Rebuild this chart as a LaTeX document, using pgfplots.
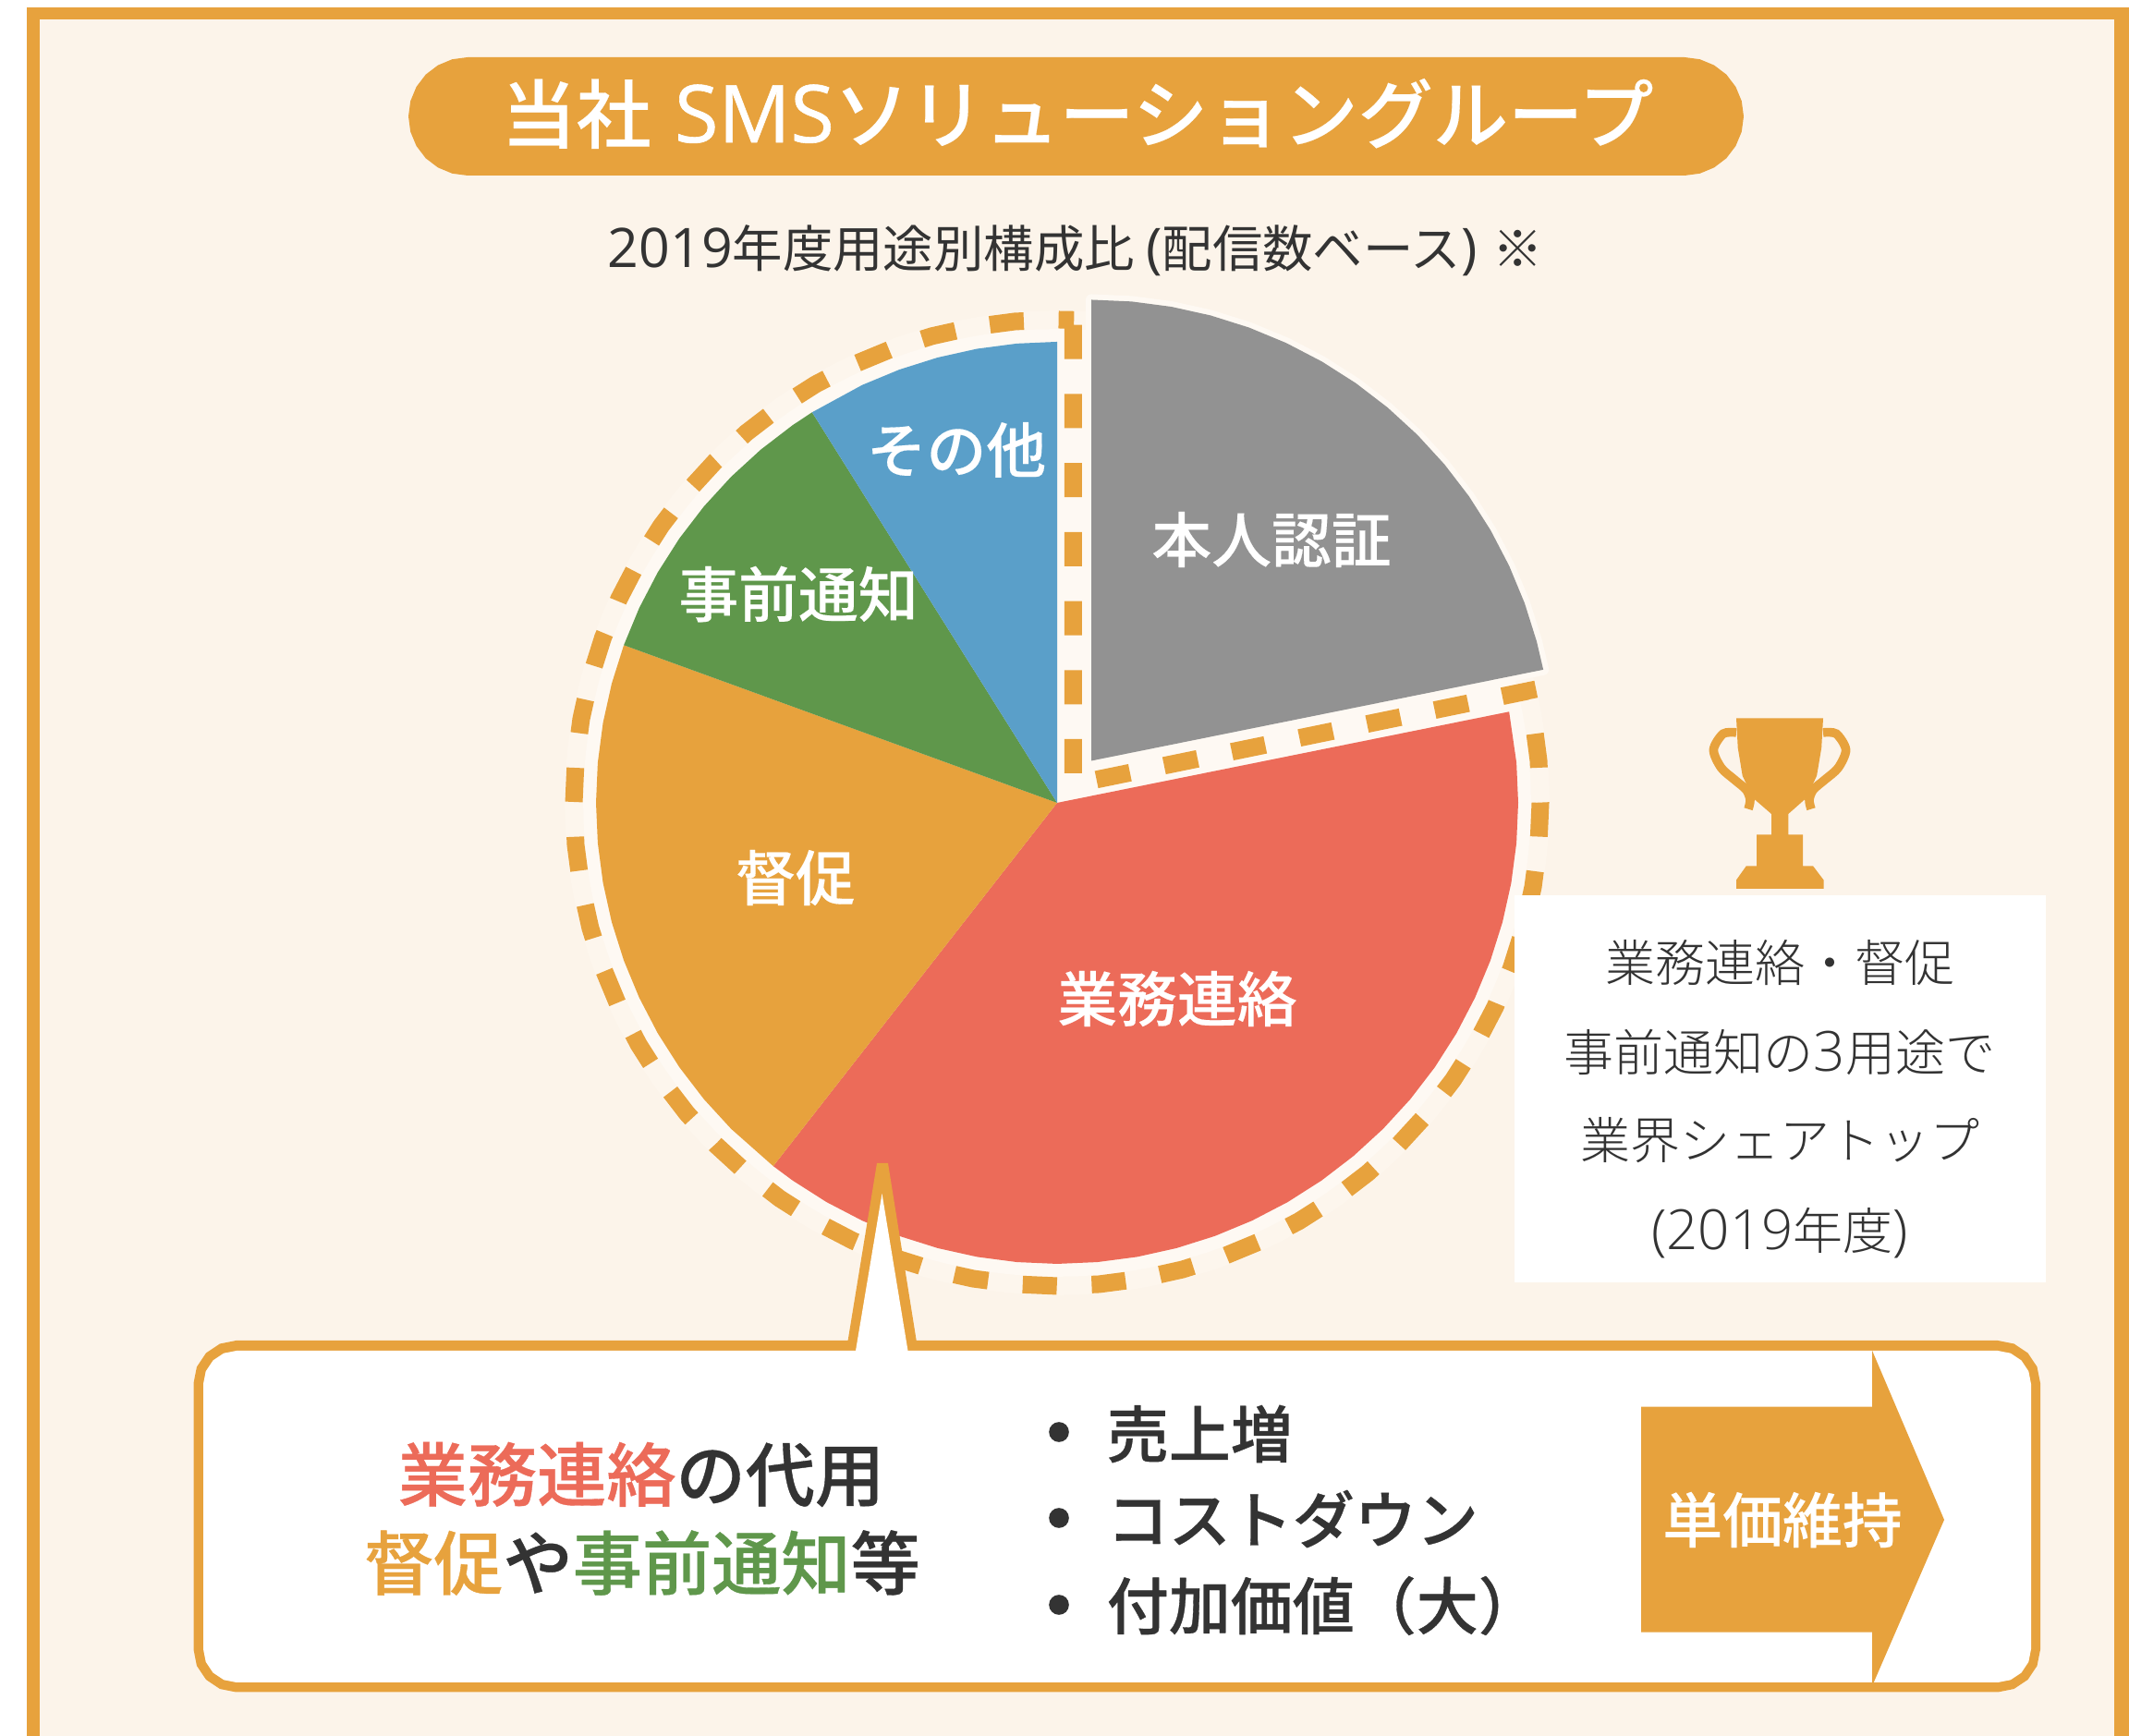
\documentclass[border=0pt]{standalone}
\usepackage{fontspec}
\usepackage{pgfplots}
\pgfplotsset{compat=1.18}
\setmainfont{Open Sans}
\newfontfamily\cjk{Noto Sans CJK JP}
\newfontfamily\cjkm{Noto Sans CJK JP Medium}
\newfontfamily\cjkl{Noto Sans CJK JP Light}
\newfontfamily\cjkh[FakeBold=0.5]{Noto Sans CJK JP Medium}
\newfontfamily\cjkt[FakeBold=0.2]{Noto Sans CJK JP Medium}
\newfontfamily\latl{Open Sans Light}
\newfontfamily\latm[FakeBold=0.7]{Open Sans}
\newcommand\fs[1]{\fontsize{#1}{#1}\selectfont}
\definecolor{org}{HTML}{E7A23D}
\definecolor{redc}{HTML}{EC6B59}
\definecolor{grn}{HTML}{5F974B}
\definecolor{blu}{HTML}{5A9FC9}
\definecolor{gry}{HTML}{929292}
\definecolor{bg}{HTML}{FCF4EA}
\definecolor{glow1}{HTML}{FDF6ED}
\definecolor{glow2}{HTML}{FEF9F3}
\definecolor{ink}{HTML}{333333}
% 1 px of the reference = 0.25pt
\pgfplotsset{sheet/.style={width=576pt,height=469.75pt,scale only axis,hide axis,at={(0,0)},anchor=south west}}
\tikzset{lab/.style={inner sep=0pt,anchor=center,align=center}}
\begin{document}
\begin{tikzpicture}
%% frame and title, in image pixels
\begin{axis}[sheet,xmin=0,xmax=2304,ymin=0,ymax=1879,y dir=reverse]
\addplot[fill=white,draw=none] coordinates {(0,0) (2304,0) (2304,1879) (0,1879)} --cycle;
\addplot[fill=org,draw=none] coordinates {(29.4,8.3) (2304,8.3) (2304,1879) (29.4,1879)} --cycle;
\addplot[fill=bg,draw=none] coordinates {(42.6,21.3) (2288,21.3) (2288,1879) (42.6,1879)} --cycle;
\addplot[fill=org,draw=none] coordinates {(442,126) (444.2,109.4) (450.6,94) (460.7,80.7) (474,70.6) (489.4,64.2) (506,62)
  (1823,62) (1839.6,64.2) (1855,70.6) (1868.3,80.7) (1878.4,94) (1884.8,109.4) (1887,126)
  (1884.8,142.6) (1878.4,158) (1868.3,171.3) (1855,181.4) (1839.6,187.8) (1823,190)
  (506,190) (489.4,187.8) (474,181.4) (460.7,171.3) (450.6,158) (444.2,142.6)} --cycle;
\node[lab,text=white] at (axis cs:1166,123) {\fs{20.3}\cjkt 当社\hspace{6.3pt}{\latm\fs{21.6}SMS}ソリューショングループ};
\node[lab,text=ink] at (axis cs:1164,271) {{\fs{14.75}2019}\fs{13.6}\cjk 年度用途別構成比 {\fontspec{Open Sans}\fs{14.75}(}配信数ベース{\fontspec{Open Sans}\fs{14.75})}\hspace{1.2pt} ※};
\addplot[only marks,mark=*,mark size=133pt,mark options={draw=glow1,fill=glow1}] coordinates {(1144,869)};
\end{axis}
\begin{axis}[sheet,xmin=0,xmax=2304,ymin=0,ymax=1879,y dir=reverse]
\addplot[only marks,mark=*,mark size=128pt,mark options={draw=glow2,fill=glow2}] coordinates {(1144,869)};
\end{axis}
%% pie, polar data round the centre at pixel (1144,869)
\begin{axis}[sheet,xmin=-1144,xmax=1160,ymin=-1010,ymax=869,clip=false]
% soft edge of the 本人認証 slice
\addplot[glow2,line width=3pt,line join=round,data cs=polar,xshift=9.25pt,yshift=11.375pt] coordinates {
 (90,0) (90,499) (85,499) (80,499) (75,499) (70,499) (65,499) (60,499) (55,499) (50,499) (45,499) (40,499) (35,499) (30,499) (25,499) (20,499) (15,499) (11.4,499)} --cycle;
% dashed ring
\addplot[org,line width=4.75pt,dash pattern=on 9.25pt off 9.43pt,data cs=polar] coordinates {
 (88.07,517.6) (49,26.5) (13.37,523.2) (10,523) (5,523) (0,523) (-5,523) (-10,523) (-15,523) (-20,523) (-25,523) (-30,523)
 (-35,523) (-40,523) (-45,523) (-50,523) (-55,523) (-60,523) (-65,523) (-70,523) (-75,523) (-80,523) (-85,523) (-90,523)
 (-95,523) (-100,523) (-105,523) (-110,523) (-115,523) (-120,523) (-125,523) (-130,523) (-135,523) (-140,523) (-145,523) (-150,523)
 (-155,523) (-160,523) (-165,523) (-170,523) (-175,523) (-180,523) (-185,523) (-190,523) (-195,523) (-200,523) (-205,523) (-210,523)
 (-215,523) (-220,523) (-225,523) (-230,523) (-235,523) (-240,523) (-245,523) (-250,523) (-255,523) (-260,523) (-265,523) (-270,523) (-272,523)};
% 本人認証, pulled out of the pie
\addplot[fill=gry,draw=none,data cs=polar,xshift=9.25pt,yshift=11.375pt] coordinates {
 (90,0) (90,499) (85,499) (80,499) (75,499) (70,499) (65,499) (60,499) (55,499) (50,499) (45,499) (40,499) (35,499) (30,499) (25,499) (20,499) (15,499) (11.4,499)} --cycle;
% 業務連絡
\addplot[fill=redc,draw=none,data cs=polar] coordinates {
 (0,0) (11.4,499) (5,499) (0,499) (-5,499) (-10,499) (-15,499) (-20,499) (-25,499) (-30,499) (-35,499) (-40,499) (-45,499) (-50,499) (-55,499) (-60,499) (-65,499)
 (-70,499) (-75,499) (-80,499) (-85,499) (-90,499) (-95,499) (-100,499) (-105,499) (-110,499) (-115,499) (-120,499) (-125,499) (-128,499)} --cycle;
% 督促
\addplot[fill=org,draw=none,data cs=polar] coordinates {
 (0,0) (232,499) (225,499) (220,499) (215,499) (210,499) (205,499) (200,499) (195,499) (190,499) (185,499) (180,499) (175,499) (170,499) (165,499) (160,499)} --cycle;
% 事前通知
\addplot[fill=grn,draw=none,data cs=polar] coordinates {
 (0,0) (160,499) (155,499) (150,499) (145,499) (140,499) (135,499) (130,499) (125,499) (122.1,499)} --cycle;
% その他
\addplot[fill=blu,draw=none,data cs=polar] coordinates {
 (0,0) (122.1,499) (115,499) (110,499) (105,499) (100,499) (95,499) (90,499)} --cycle;
\end{axis}
%% labels, box, trophy and callout, in image pixels
\begin{axis}[sheet,xmin=0,xmax=2304,ymin=0,ymax=1879,y dir=reverse]
\node[lab,text=white] at (axis cs:1376,584) {\fs{16.2}\cjkt 本人認証};
\node[lab,text=white] at (axis cs:1035,487) {\fs{16.2}\cjkt その他};
\node[lab,text=white] at (axis cs:864,643) {\fs{16.2}\cjkt 事前通知};
\node[lab,text=white] at (axis cs:861,950) {\fs{16.2}\cjkt 督促};
\node[lab,text=white] at (axis cs:1274,1081) {\fs{16.2}\cjkt 業務連絡};
% white box
\addplot[fill=white,draw=none] coordinates {(1638.5,969) (2214,969) (2214,1388) (1638.5,1388)} --cycle;
\node[lab,text=ink] at (axis cs:1926,1042) {\fs{13.5}\cjkl 業務連絡・督促};
\node[lab,text=ink] at (axis cs:1926,1139) {\fs{13.5}\cjkl 事前通知の{\latl\fs{15}3}用途で};
\node[lab,text=ink] at (axis cs:1926,1234) {\fs{13.5}\cjkl 業界シェアトップ};
\node[lab,text=ink] at (axis cs:1926,1335) {\latl\fs{15}(2019{\fs{13.5}\cjkl 年度})};
% trophy
\addplot[fill=org,draw=none] coordinates {(1879,777.3) (1973,777.3) (1971.2,809.4) (1966.1,839.7) (1955,863.6) (1935.3,881)
  (1935.3,903.5) (1951.2,903.5) (1951.2,937.3) (1962,937.3) (1973.5,952.5) (1973.5,962) (1879,962) (1879,952.5) (1889.8,937.3)
  (1901,937.3) (1901,903.5) (1917,903.5) (1917,881) (1896.9,863.6) (1885.7,839.7) (1880.7,809.4)} --cycle;
\addplot[org,line width=2.4pt,smooth] coordinates {(1879,792.9) (1864.8,794.2) (1854.4,811.6) (1862.7,831.1) (1877.3,844.1) (1889.8,854.9) (1894,865.8) (1892,875.7)};
\addplot[org,line width=2.4pt,smooth] coordinates {(1973,792.9) (1987.2,794.2) (1997.6,811.6) (1989.3,831.1) (1974.7,844.1) (1962.2,854.9) (1958,865.8) (1960,875.7)};
% callout
\addplot[fill=org,draw=none] coordinates {(917.6,1451) (949,1259) (961,1259) (991.7,1451)
  (2162,1451) (2179.6,1454.5) (2194.5,1464.5) (2204.5,1479.4) (2208,1497)
  (2208,1785.5) (2204.5,1803.1) (2194.5,1818) (2179.6,1828) (2162,1831.5)
  (255.5,1831.5) (237.9,1828) (223,1818) (213,1803.1) (209.5,1785.5)
  (209.5,1497) (213,1479.4) (223,1464.5) (237.9,1454.5) (255.5,1451)} --cycle;
\addplot[fill=white,draw=none] coordinates {(926,1462) (954.5,1292) (982.5,1462)
  (2162,1462) (2175.8,1464.7) (2187.5,1472.5) (2195.3,1484.2) (2198,1498)
  (2198,1785) (2195.3,1798.8) (2187.5,1810.5) (2175.8,1818.3) (2162,1821)
  (256,1821) (242.2,1818.3) (230.5,1810.5) (222.7,1798.8) (220,1785)
  (220,1498) (222.7,1484.2) (230.5,1472.5) (242.2,1464.7) (256,1462)} --cycle;
\addplot[fill=org,draw=none] coordinates {(1776,1522.7) (2026,1522.7) (2026,1461.7) (2104,1645) (2026,1825) (2026,1766.7) (1776,1766.7)} --cycle;
\addplot[only marks,mark=*,mark size=2.5pt,mark options={draw=ink,fill=ink}] coordinates {(1146,1550) (1146,1643) (1146,1737)};
\node[lab,text=ink] at (axis cs:694,1596) {\fs{18.8}\cjkh{\color{redc}業務連絡}の代用};
\node[lab,text=ink] at (axis cs:695,1691.5) {\fs{18.8}\cjkh{\color{org}督促}や{\color{grn}事前通知}等};
\node[lab,text=ink,anchor=west] at (axis cs:1197,1552) {\fs{16.75}\cjkh 売上増};
\node[lab,text=ink,anchor=west] at (axis cs:1197,1644) {\fs{16.75}\cjkh コストダウン};
\node[lab,text=ink,anchor=west] at (axis cs:1197,1738) {\fs{16.75}\cjkh 付加価値（大）};
\node[lab,text=white] at (axis cs:1929,1645) {\fs{16.2}\cjkt 単価維持};
\end{axis}
\end{tikzpicture}
\end{document}
